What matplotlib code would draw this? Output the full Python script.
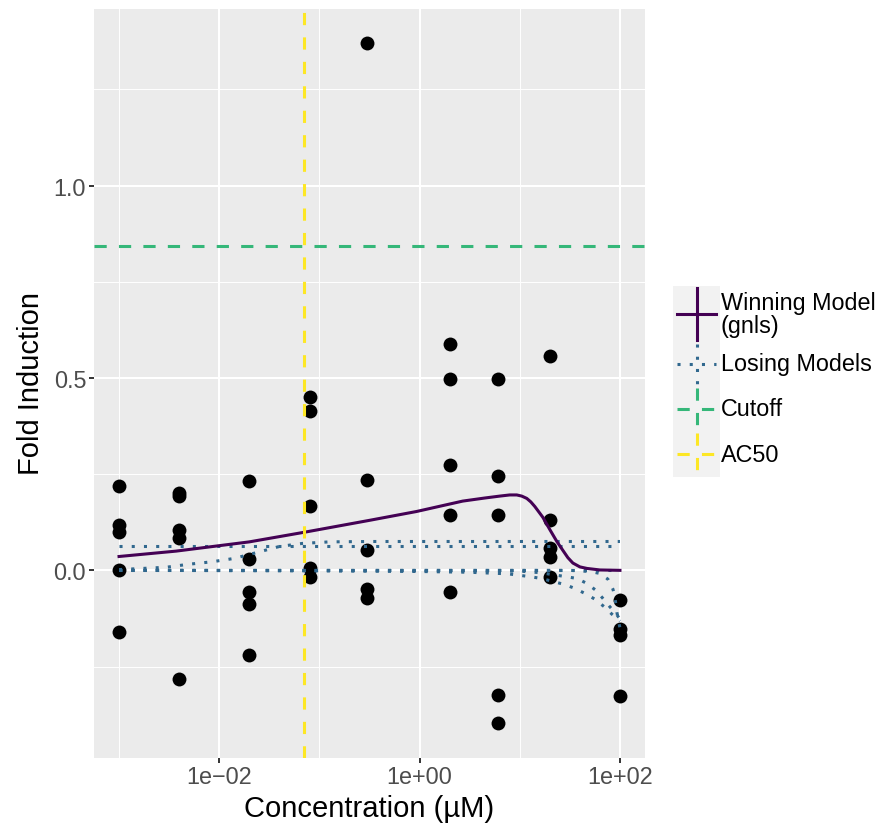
import numpy as np
import matplotlib
matplotlib.use("Agg")
import matplotlib.pyplot as plt

plt.rcParams['font.family'] = ['Liberation Sans', 'DejaVu Sans']

# measured responses, one list per concentration
conc = [0.001, 0.004, 0.02, 0.08, 0.3, 2, 6, 20, 100]
resp = [
    [0.218, 0.119, 0.099, 0.001, -0.161],
    [0.200, 0.192, 0.104, 0.083, -0.283],
    [0.231, 0.029, -0.055, -0.088, -0.220],
    [0.451, 0.415, 0.166, 0.005, -0.018],
    [1.372, 0.236, 0.054, -0.049, -0.073],
    [0.589, 0.498, 0.275, 0.145, -0.057],
    [0.498, 0.246, 0.143, -0.324, -0.398],
    [0.558, 0.130, 0.057, 0.034, -0.018],
    [-0.078, -0.153, -0.169, -0.327],
]

# winning model (gnls) (log10 conc, response)
win_logx = [-3.0, -2.43, -1.70, -1.13, -0.50, -0.03, 0.43, 0.65, 0.80, 0.90,
            0.97, 1.02, 1.07, 1.11, 1.15, 1.19, 1.23, 1.30, 1.37, 1.43,
            1.48, 1.53, 1.60, 1.67, 1.80, 2.0]
win_y = [0.036, 0.050, 0.074, 0.100, 0.130, 0.153, 0.180, 0.188, 0.193, 0.196,
         0.196, 0.193, 0.187, 0.178, 0.166, 0.152, 0.138, 0.106, 0.075, 0.052,
         0.033, 0.019, 0.009, 0.005, 0.001, 0.0]

# losing models
lose_logx = [
    [-3.0, 2.0],
    [-3.0, 2.0],
    [-3.0, -2.53, -2.30, -2.08, -1.85, -1.63, -1.40, -1.17, -0.90, -0.50, 0.0, 1.0, 2.0],
    [-3.0, -1.0, 0.0, 0.50, 0.88, 1.12, 1.23, 1.45, 1.55, 1.65, 1.75, 1.84, 1.92, 2.0],
    [-3.0, 1.0, 1.20, 1.45, 1.57, 1.67, 1.76, 1.83, 1.90, 1.96, 2.0],
    [-3.0, 1.50, 1.70, 1.80, 1.88, 1.93, 1.95, 1.97, 2.0],
]
lose_y = [
    [0.0, 0.0],
    [0.062, 0.062],
    [0.002, 0.008, 0.016, 0.022, 0.031, 0.046, 0.062, 0.070, 0.074, 0.075, 0.075, 0.075, 0.075],
    [0.0, -0.001, -0.003, -0.005, -0.009, -0.017, -0.022, -0.037, -0.047, -0.060, -0.075, -0.094, -0.114, -0.132],
    [0.0, -0.002, -0.006, -0.016, -0.021, -0.034, -0.052, -0.073, -0.095, -0.112, -0.127],
    [0.0, 0.0, -0.003, -0.008, -0.023, -0.049, -0.070, -0.110, -0.150],
]

cutoff = 0.844
ac50 = 0.0708

c_win = '#440154'
c_lose = '#31688E'
c_cut = '#35B779'
c_ac50 = '#FDE725'

W, H = 881, 829
fig = plt.figure(figsize=(W / 100, H / 100), dpi=100)
ax = fig.add_axes([94 / W, 1 - 758.5 / H, 551 / W, 749 / H])
ax.set_facecolor('#EBEBEB')
for s in ax.spines.values():
    s.set_visible(False)

lw = 2.2
for c, ys in zip(conc, resp):
    ax.plot([c] * len(ys), ys, 'o', color='black', ms=10, mew=0, zorder=3)

for lx, ly in zip(lose_logx, lose_y):
    ax.plot(10 ** np.array(lx), ly, color=c_lose, lw=lw, ls=(0, (1, 3)),
            zorder=4)
ax.plot(10 ** np.array(win_logx), win_y, color=c_win, lw=lw, zorder=5,
        solid_joinstyle='round')
ax.axhline(cutoff, color=c_cut, lw=lw, ls=(0, (4, 4)), zorder=6)
ax.axvline(ac50, color=c_ac50, lw=lw, ls=(0, (4, 4)), zorder=6)

ax.set_xscale('log')
ax.set_xlim(10 ** -3.25, 10 ** 2.25)
all_y = [v for ys in resp for v in ys]
ymin, ymax = min(all_y), max(all_y)
pad = (ymax - ymin) * 0.05
ax.set_ylim(ymin - pad, ymax + pad)

ax.set_xticks([1e-2, 1, 1e2])
ax.set_xticklabels(['1e\u221202', '1e+00', '1e+02'])
ax.set_xticks([1e-3, 1e-1, 1e1], minor=True)
ax.set_xticklabels([], minor=True)
ax.set_yticks([0.0, 0.5, 1.0])
ax.set_yticklabels(['0.0', '0.5', '1.0'])
ax.set_yticks([-0.25, 0.25, 0.75, 1.25], minor=True)
ax.set_axisbelow(True)
ax.grid(which='major', color='white', lw=1.45)
ax.grid(which='minor', color='white', lw=0.7)
ax.tick_params(which='minor', length=0)
ax.tick_params(which='major', length=3.6, width=1.4, color='#333333',
               labelcolor='#4D4D4D', labelsize=16.8, pad=2)
ax.set_xlabel('Concentration (\u00b5M)', fontsize=21, labelpad=4)
ax.set_ylabel('Fold Induction', fontsize=21, labelpad=6)

# legend drawn ggplot-style: grey key column with crossed keys
lax = fig.add_axes([673 / W, 1 - 478 / H, 47 / W, 191 / H])
lax.set_facecolor('#F2F2F2')
lax.set_xlim(0, 47)
lax.set_ylim(191, 0)
lax.set_xticks([])
lax.set_yticks([])
for s in lax.spines.values():
    s.set_visible(False)

keys = [
    ('Winning Model\n(gnls)', c_win, '-', 0, 56),
    ('Losing Models', c_lose, (0, (1, 3)), 56, 100),
    ('Cutoff', c_cut, (0, (4, 4)), 100, 145),
    ('AC50', c_ac50, (0, (4, 4)), 145, 191),
]
for label, col, style, top, bot in keys:
    mid = (top + bot) / 2
    lax.plot([4, 43], [mid, mid], color=col, lw=lw, ls=style)
    lax.plot([23.5, 23.5], [top + 2, bot - 2], color=col, lw=lw, ls=style)
    lax.text(48, mid, label, fontsize=16.8, color='black', va='center',
             ha='left', linespacing=0.95, clip_on=False)

fig.savefig('out.png', dpi=100)
